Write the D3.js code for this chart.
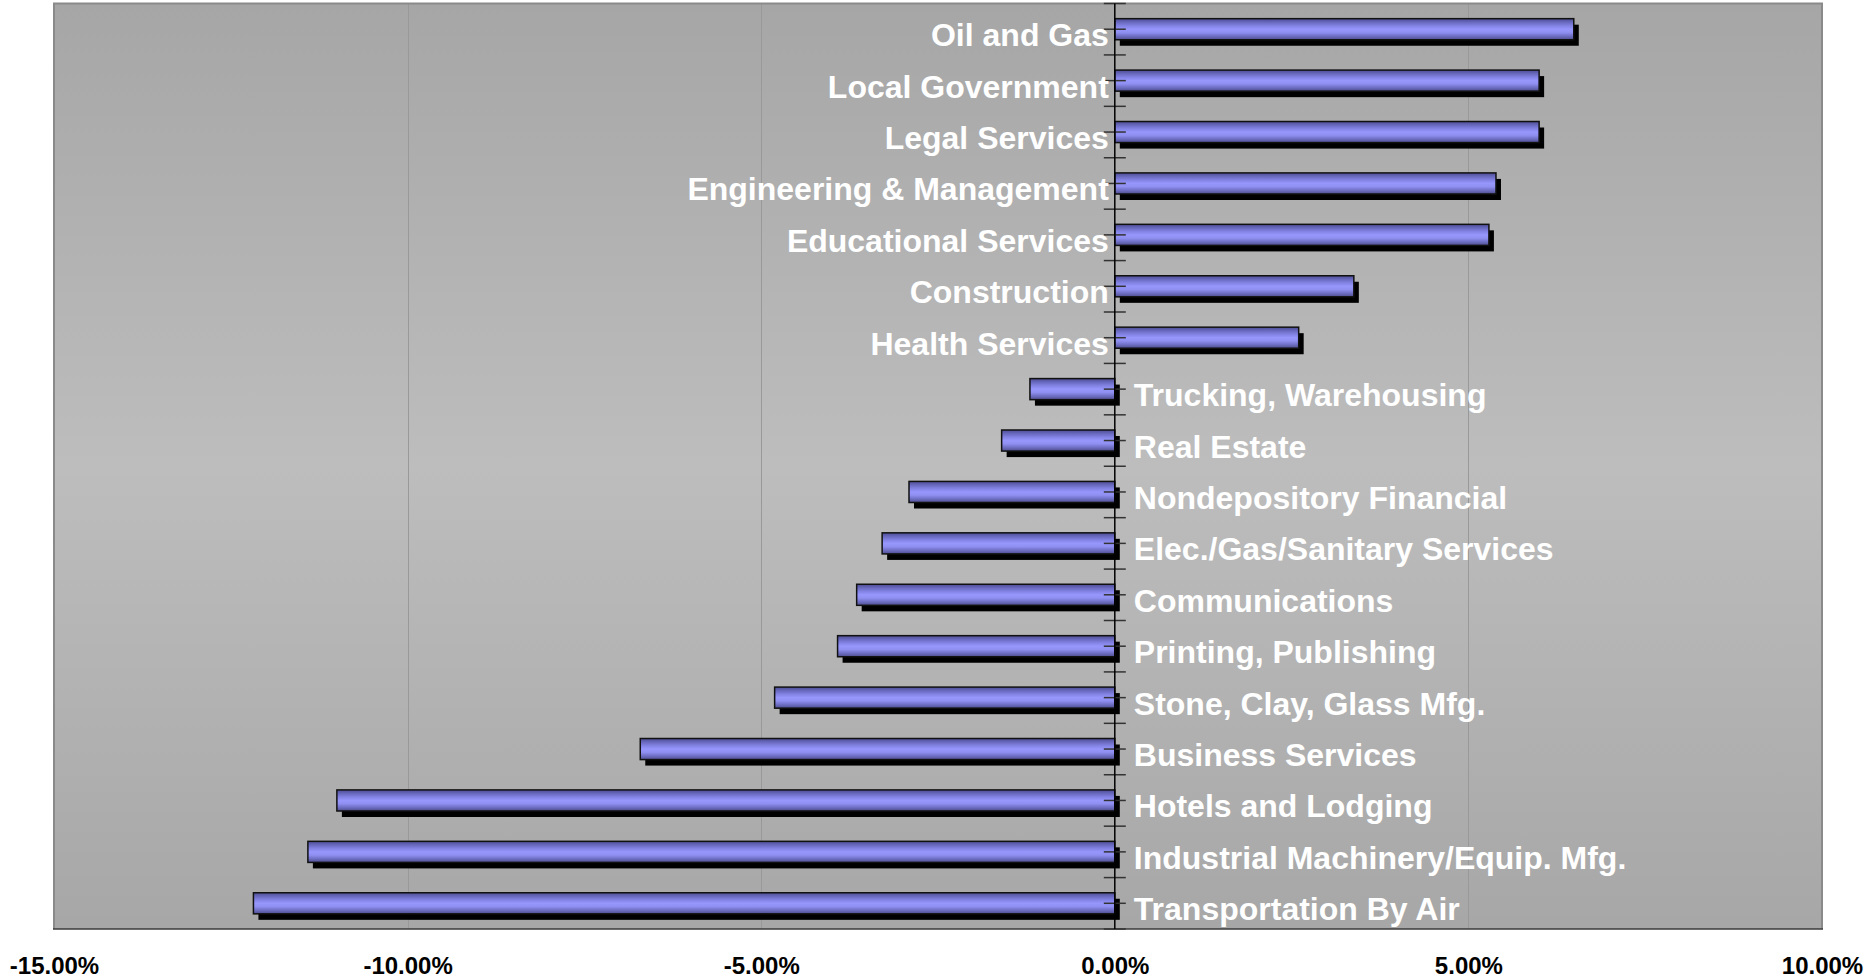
<!DOCTYPE html>
<html>
<head>
<meta charset="utf-8">
<script src="https://cdn.jsdelivr.net/npm/d3@7"></script>
<style>
  body { margin: 0; background: #ffffff; }
  svg { display: block; }
</style>
</head>
<body>
<div id="chart"></div>
<script>
// categories, top to bottom
var categories = [
  "Oil and Gas", "Local Government", "Legal Services", "Engineering & Management",
  "Educational Services", "Construction", "Health Services", "Trucking, Warehousing",
  "Real Estate", "Nondepository Financial", "Elec./Gas/Sanitary Services",
  "Communications", "Printing, Publishing", "Stone, Clay, Glass Mfg.",
  "Business Services", "Hotels and Lodging", "Industrial Machinery/Equip. Mfg.",
  "Transportation By Air"
];

// percent change (as fractions)
var changes = [
  0.0649, 0.0600, 0.0600, 0.0539,
  0.0529, 0.0338, 0.0260, -0.0120,
  -0.0160, -0.0291, -0.0329,
  -0.0365, -0.0392, -0.0481,
  -0.0671, -0.1100, -0.1141,
  -0.1218
];

// x axis ticks
var xTicks = [-0.15, -0.10, -0.05, 0, 0.05, 0.10];
var xTickLabels = ["-15.00%", "-10.00%", "-5.00%", "0.00%", "5.00%", "10.00%"];

var data = categories.map(function(c, i) { return { name: c, value: changes[i] }; });

// canvas / plot area
var W = 1873, H = 978;
var plot = { left: 54, right: 1822, top: 3.5, bottom: 929 };

var svg = d3.select("#chart").append("svg")
    .attr("width", W)
    .attr("height", H);

var defs = svg.append("defs");

// plot background: light band in the middle
var bg = defs.append("linearGradient")
    .attr("id", "bgGrad")
    .attr("x1", 0).attr("y1", 0).attr("x2", 0).attr("y2", 1);
bg.append("stop").attr("offset", "0%").attr("stop-color", "#a6a6a6");
bg.append("stop").attr("offset", "50%").attr("stop-color", "#bdbdbd");
bg.append("stop").attr("offset", "100%").attr("stop-color", "#a7a7a7");

// bar fill: shaded tube
var bar = defs.append("linearGradient")
    .attr("id", "barGrad")
    .attr("x1", 0).attr("y1", 0).attr("x2", 0).attr("y2", 1);
[["0%", "#4c4c94"], ["18%", "#6a6ac0"], ["35%", "#8484e6"], ["50%", "#9696fc"],
 ["65%", "#9090f2"], ["82%", "#7070c6"], ["100%", "#4e4e8e"]].forEach(function(s) {
  bar.append("stop").attr("offset", s[0]).attr("stop-color", s[1]);
});

// scales
var x = d3.scaleLinear()
    .domain([xTicks[0], xTicks[xTicks.length - 1]])
    .range([plot.left, plot.right]);

var y = d3.scaleBand()
    .domain(categories)
    .range([plot.top, plot.bottom])
    .paddingInner(0.59)
    .paddingOuter(0.295);

var x0 = x(0);

// background
svg.append("rect")
    .attr("x", plot.left)
    .attr("y", plot.top)
    .attr("width", plot.right - plot.left)
    .attr("height", plot.bottom - plot.top)
    .attr("fill", "url(#bgGrad)");

// vertical gridlines
svg.append("g")
  .selectAll("line")
  .data(xTicks.filter(function(t) { return t !== 0 && t !== xTicks[0] && t !== xTicks[xTicks.length - 1]; }))
  .enter().append("line")
    .attr("x1", function(d) { return Math.round(x(d)) + 0.5; })
    .attr("x2", function(d) { return Math.round(x(d)) + 0.5; })
    .attr("y1", plot.top)
    .attr("y2", plot.bottom)
    .attr("stroke", "#999999")
    .attr("stroke-width", 1);

// plot frame
svg.append("path")
    .attr("d", "M" + plot.left + "," + plot.bottom + "V" + plot.top + "H" + plot.right + "V" + plot.bottom)
    .attr("fill", "none")
    .attr("stroke", "#8a8a8a")
    .attr("stroke-width", 2);
svg.append("line")
    .attr("x1", plot.left - 1).attr("x2", plot.right + 1)
    .attr("y1", plot.bottom).attr("y2", plot.bottom)
    .attr("stroke", "#3a3a3a")
    .attr("stroke-width", 1.5);

// bar shadows
svg.append("g")
  .selectAll("rect")
  .data(data)
  .enter().append("rect")
    .attr("x", function(d) { return Math.min(x(d.value), x0) + 5; })
    .attr("y", function(d) { return y(d.name) + 6; })
    .attr("width", function(d) { return Math.abs(x(d.value) - x0); })
    .attr("height", y.bandwidth())
    .attr("fill", "#000000");

// bars
svg.append("g")
  .selectAll("rect")
  .data(data)
  .enter().append("rect")
    .attr("x", function(d) { return Math.min(x(d.value), x0); })
    .attr("y", function(d) { return y(d.name); })
    .attr("width", function(d) { return Math.abs(x(d.value) - x0); })
    .attr("height", y.bandwidth())
    .attr("fill", "url(#barGrad)")
    .attr("stroke", "#111111")
    .attr("stroke-width", 1.5);

// category axis line at zero with crossing ticks every half band
var half = y.step() / 2;
var tickYs = d3.range(categories.length * 2 + 1).map(function(i) { return plot.top + i * half; });

svg.append("g")
  .selectAll("line")
  .data(tickYs)
  .enter().append("line")
    .attr("x1", x0 - 11)
    .attr("x2", x0 + 11)
    .attr("y1", function(d) { return d; })
    .attr("y2", function(d) { return d; })
    .attr("stroke", "#333333")
    .attr("stroke-width", 1.5);

svg.append("line")
    .attr("x1", x0).attr("x2", x0)
    .attr("y1", plot.top).attr("y2", plot.bottom)
    .attr("stroke", "#000000")
    .attr("stroke-width", 1.5);

// data labels
svg.append("g")
  .selectAll("text")
  .data(data)
  .enter().append("text")
    .attr("x", function(d) { return d.value >= 0 ? x0 - 6 : x0 + 19; })
    .attr("y", function(d) { return y(d.name) + y.bandwidth() / 2 + 17; })
    .attr("text-anchor", function(d) { return d.value >= 0 ? "end" : "start"; })
    .attr("fill", "#ffffff")
    .style("font-family", "'Liberation Sans', Arial, sans-serif")
    .style("font-weight", "bold")
    .style("font-size", "32px")
    .text(function(d) { return d.name; });

// x axis labels
var xAxis = d3.axisBottom(x)
    .tickValues(xTicks)
    .tickFormat(function(d, i) { return xTickLabels[i]; })
    .tickSize(0)
    .tickPadding(28);

var gx = svg.append("g")
    .attr("transform", "translate(0," + plot.bottom + ")")
    .call(xAxis);
gx.select(".domain").remove();
gx.selectAll("text")
    .attr("fill", "#000000")
    .style("font-family", "'Liberation Sans', Arial, sans-serif")
    .style("font-weight", "bold")
    .style("font-size", "24px");
</script>
</body>
</html>
